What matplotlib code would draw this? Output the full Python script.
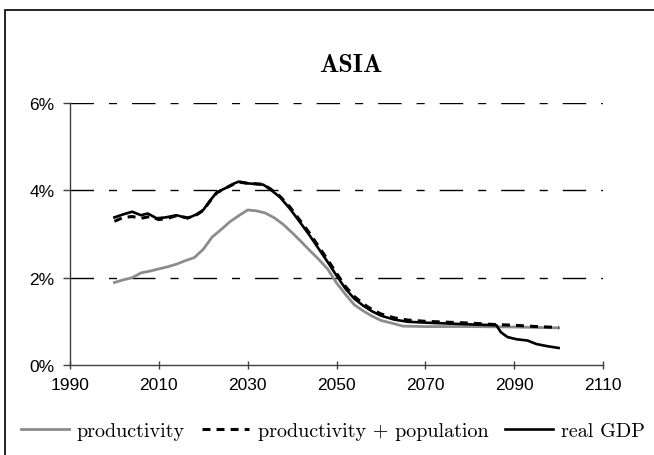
import matplotlib
matplotlib.use('Agg')
import matplotlib.pyplot as plt
from matplotlib.patches import Rectangle
from matplotlib.ticker import FuncFormatter

# growth rates in % per year
prod_years = [2000, 2002, 2004, 2006, 2008, 2010, 2012, 2014, 2016, 2018,
              2020, 2022, 2024, 2026, 2028, 2030, 2032, 2034, 2036, 2038,
              2040, 2042, 2044, 2046, 2048, 2050, 2052, 2054, 2056, 2058,
              2060, 2062, 2065, 2070, 2080, 2090, 2100]
prod = [1.89, 1.95, 2.00, 2.11, 2.15, 2.20, 2.25, 2.31, 2.39, 2.46,
        2.65, 2.93, 3.10, 3.28, 3.42, 3.55, 3.53, 3.48, 3.37, 3.22,
        3.03, 2.83, 2.62, 2.42, 2.20, 1.88, 1.62, 1.38, 1.24, 1.12,
        1.02, 0.97, 0.89, 0.88, 0.88, 0.87, 0.85]

pop_years = [2000, 2002, 2004, 2006, 2008, 2010, 2012, 2014, 2016.5, 2018.5,
             2020, 2021.5, 2023, 2025, 2027, 2028, 2030, 2033.5, 2035, 2037.3,
             2039.5, 2042, 2044, 2046, 2048, 2050, 2052, 2054, 2056, 2058,
             2060, 2063, 2066, 2070, 2075, 2080, 2085, 2090, 2095, 2100]
prod_pop = [3.29, 3.38, 3.40, 3.36, 3.40, 3.33, 3.36, 3.42, 3.37, 3.44,
            3.54, 3.75, 3.94, 4.05, 4.15, 4.19, 4.16, 4.14, 4.04, 3.86,
            3.62, 3.28, 3.01, 2.71, 2.41, 2.10, 1.80, 1.57, 1.40, 1.27,
            1.17, 1.08, 1.03, 1.00, 0.98, 0.96, 0.93, 0.91, 0.88, 0.86]

gdp_years = [2000, 2002, 2004, 2005, 2006, 2007.5, 2009.5, 2011.5, 2014, 2016.5,
             2018.5, 2020, 2021.5, 2023, 2025, 2027, 2028, 2030, 2033.5, 2035,
             2037.3, 2039.5, 2042, 2044, 2046, 2048, 2050, 2052, 2054, 2056,
             2058, 2060, 2063, 2066, 2070, 2075, 2080, 2086, 2087, 2088.5,
             2090.5, 2093, 2095, 2097.5, 2100]
gdp = [3.38, 3.45, 3.51, 3.47, 3.43, 3.47, 3.36, 3.38, 3.43, 3.36,
       3.45, 3.55, 3.76, 3.95, 4.05, 4.16, 4.20, 4.16, 4.13, 4.03,
       3.84, 3.58, 3.24, 2.96, 2.66, 2.36, 2.05, 1.75, 1.52, 1.36,
       1.23, 1.13, 1.04, 0.99, 0.97, 0.95, 0.93, 0.91, 0.75, 0.64,
       0.59, 0.56, 0.48, 0.43, 0.39]

x_ticks = [1990, 2010, 2030, 2050, 2070, 2090, 2110]
y_ticks = [0, 2, 4, 6]

W, H = 654, 456
fig = plt.figure(figsize=(W / 100, H / 100), dpi=100)
ax = fig.add_axes([70 / W, 1 - 366 / H, 533 / W, 262 / H])

# outer frame, runs off the right and bottom edge
fig.patches.append(Rectangle((5.5 / W, -0.1), 1.2, 1.1 - 10.5 / H,
                             transform=fig.transFigure, fill=False,
                             edgecolor='black', linewidth=1.2))

grid_dash = (0, (16.9, 10.8, 5.8, 10.8))
for v in y_ticks[1:]:
    ax.axhline(v, color='black', linewidth=1, linestyle=grid_dash, zorder=1)

ax.plot(prod_years, prod, color='#8c8c8c', linewidth=2.0,
        label='productivity', zorder=3)
ax.plot(pop_years, prod_pop, color='black', linewidth=2.2,
        linestyle=(0, (2.6, 2.0)), label='productivity + population', zorder=4)
ax.plot(gdp_years, gdp, color='black', linewidth=1.9,
        label='real GDP', zorder=5)

ax.set_xlim(1990, 2110)
ax.set_ylim(0, 6)
ax.set_xticks(x_ticks)
ax.set_yticks(y_ticks)
ax.yaxis.set_major_formatter(FuncFormatter(lambda v, p: '%d%%' % v))

for s in ['top', 'right']:
    ax.spines[s].set_visible(False)
for s in ['left', 'bottom']:
    ax.spines[s].set_color('#404040')
    ax.spines[s].set_linewidth(1)

ax.tick_params(axis='x', direction='inout', length=6, width=1,
               color='#404040', pad=6)
ax.tick_params(axis='y', direction='out', length=5, width=1,
               color='#404040', pad=6)
for lab in ax.get_xticklabels() + ax.get_yticklabels():
    lab.set_fontfamily('Liberation Sans')
    lab.set_fontsize(12.5)

fig.text(351 / W, 1 - 65 / H, 'ASIA', fontfamily='cmb10', fontsize=18.5,
         ha='center', va='center')

fig.legend(loc='center', bbox_to_anchor=(333 / W, 1 - 432 / H), ncol=3,
           frameon=False, prop={'family': 'cmr10', 'size': 14.5},
           handlelength=2.35, handletextpad=0.4, columnspacing=0.85,
           borderpad=0, borderaxespad=0)

fig.savefig('out.png', dpi=100)
